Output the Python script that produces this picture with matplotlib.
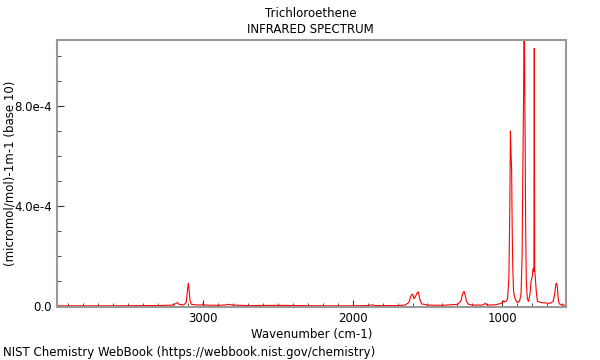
import numpy as np
import matplotlib
matplotlib.use("Agg")
import matplotlib.pyplot as plt
from matplotlib.ticker import MultipleLocator, FixedLocator, FuncFormatter

# spectrum, absorbance in units of 1e-4
wavenumber = [3975, 3800, 3600, 3400, 3300, 3200, 3185, 3172, 3160, 3130, 3112,
              3104, 3098, 3093, 3087, 3078, 3050, 3010, 3000, 2990, 2900, 2840,
              2830, 2800, 2700, 2500, 2200, 2000, 1900, 1870, 1850, 1700, 1650,
              1625, 1608, 1598, 1590, 1580, 1568, 1560, 1552, 1540, 1500, 1400,
              1300, 1278, 1265, 1256, 1248, 1240, 1225, 1200, 1130, 1115, 1100,
              1050, 1020, 1000, 990, 985, 975, 965, 956, 950, 946, 942, 938,
              934, 930, 925, 915, 900, 885, 875, 868, 862, 858, 854, 851, 848,
              844, 840, 833, 825, 815, 808, 800, 795, 789, 786.5, 784, 778,
              772, 765, 740, 680, 660, 650, 642, 637, 632, 627, 620, 600, 578]
absorbance = [0.02, 0.02, 0.02, 0.03, 0.03, 0.05, 0.1, 0.15, 0.08, 0.05, 0.15,
              0.6, 0.92, 0.7, 0.25, 0.08, 0.06, 0.05, 0.1, 0.05, 0.04, 0.06,
              0.08, 0.05, 0.03, 0.04, 0.02, 0.02, 0.03, 0.06, 0.03, 0.03, 0.05,
              0.15, 0.45, 0.48, 0.3, 0.4, 0.55, 0.57, 0.3, 0.1, 0.05, 0.04,
              0.08, 0.2, 0.5, 0.6, 0.45, 0.2, 0.08, 0.05, 0.05, 0.12, 0.05,
              0.06, 0.1, 0.15, 0.22, 0.18, 0.2, 0.3, 1.2, 4.0, 7.0, 6.1, 5.5,
              3.0, 1.5, 0.6, 0.3, 0.15, 0.2, 0.5, 2.0, 6.0, 8.4, 12.0, 9.5, 7.0,
              3.0, 1.0, 0.3, 0.2, 0.5, 1.0, 1.2, 1.5, 1.4, 10.3, 1.5, 1.0,
              0.5, 0.2, 0.15, 0.12, 0.2, 0.5, 0.9, 0.92, 0.75, 0.3, 0.1, 0.05, 0.05]

ytick_vals = [0.0, 4e-4, 8e-4]
ytick_labels = ["0.0", "4.0e-4", "8.0e-4"]
xtick_vals = [3000, 2000, 1000]

fig = plt.figure(figsize=(6, 3.6), dpi=100)
ax = fig.add_axes([0.095, 0.147, 0.8475, 0.742])

ax.plot(wavenumber, np.array(absorbance) * 1e-4, color="#ff0000", lw=0.8)

ax.set_xlim(3975, 578)
ax.set_ylim(-3e-6, 1.064e-3)

ax.xaxis.set_major_locator(FixedLocator(xtick_vals))
ax.xaxis.set_minor_locator(MultipleLocator(100))
ax.yaxis.set_major_locator(FixedLocator(ytick_vals))
ax.yaxis.set_minor_locator(MultipleLocator(1e-4))
ax.yaxis.set_major_formatter(FuncFormatter(lambda v, p: ytick_labels[p] if p is not None and p < 3 else ""))
ax.set_yticklabels(ytick_labels)

ax.tick_params(which="both", direction="in", labelsize=8.5, colors="#333333", labelcolor="black")
ax.tick_params(which="major", length=5)
ax.tick_params(which="minor", length=3)
ax.tick_params(top=False, right=False)

for s in ax.spines.values():
    s.set_color("#999999")
    s.set_linewidth(1.5)

ax.set_xlabel("Wavenumber (cm-1)", fontsize=8.5, labelpad=2)
ax.set_ylabel("(micromol/mol)-1m-1 (base 10)", fontsize=8.5)
ax.yaxis.set_label_coords(-0.08, 0.5)

fig.text(0.518, 0.963, "Trichloroethene", ha="center", va="center", fontsize=8.5)
fig.text(0.518, 0.917, "INFRARED SPECTRUM", ha="center", va="center", fontsize=8.5)
fig.text(0.005, 0.022, "NIST Chemistry WebBook (https://webbook.nist.gov/chemistry)",
         ha="left", va="center", fontsize=8.5)

fig.savefig("out.png", dpi=100)
